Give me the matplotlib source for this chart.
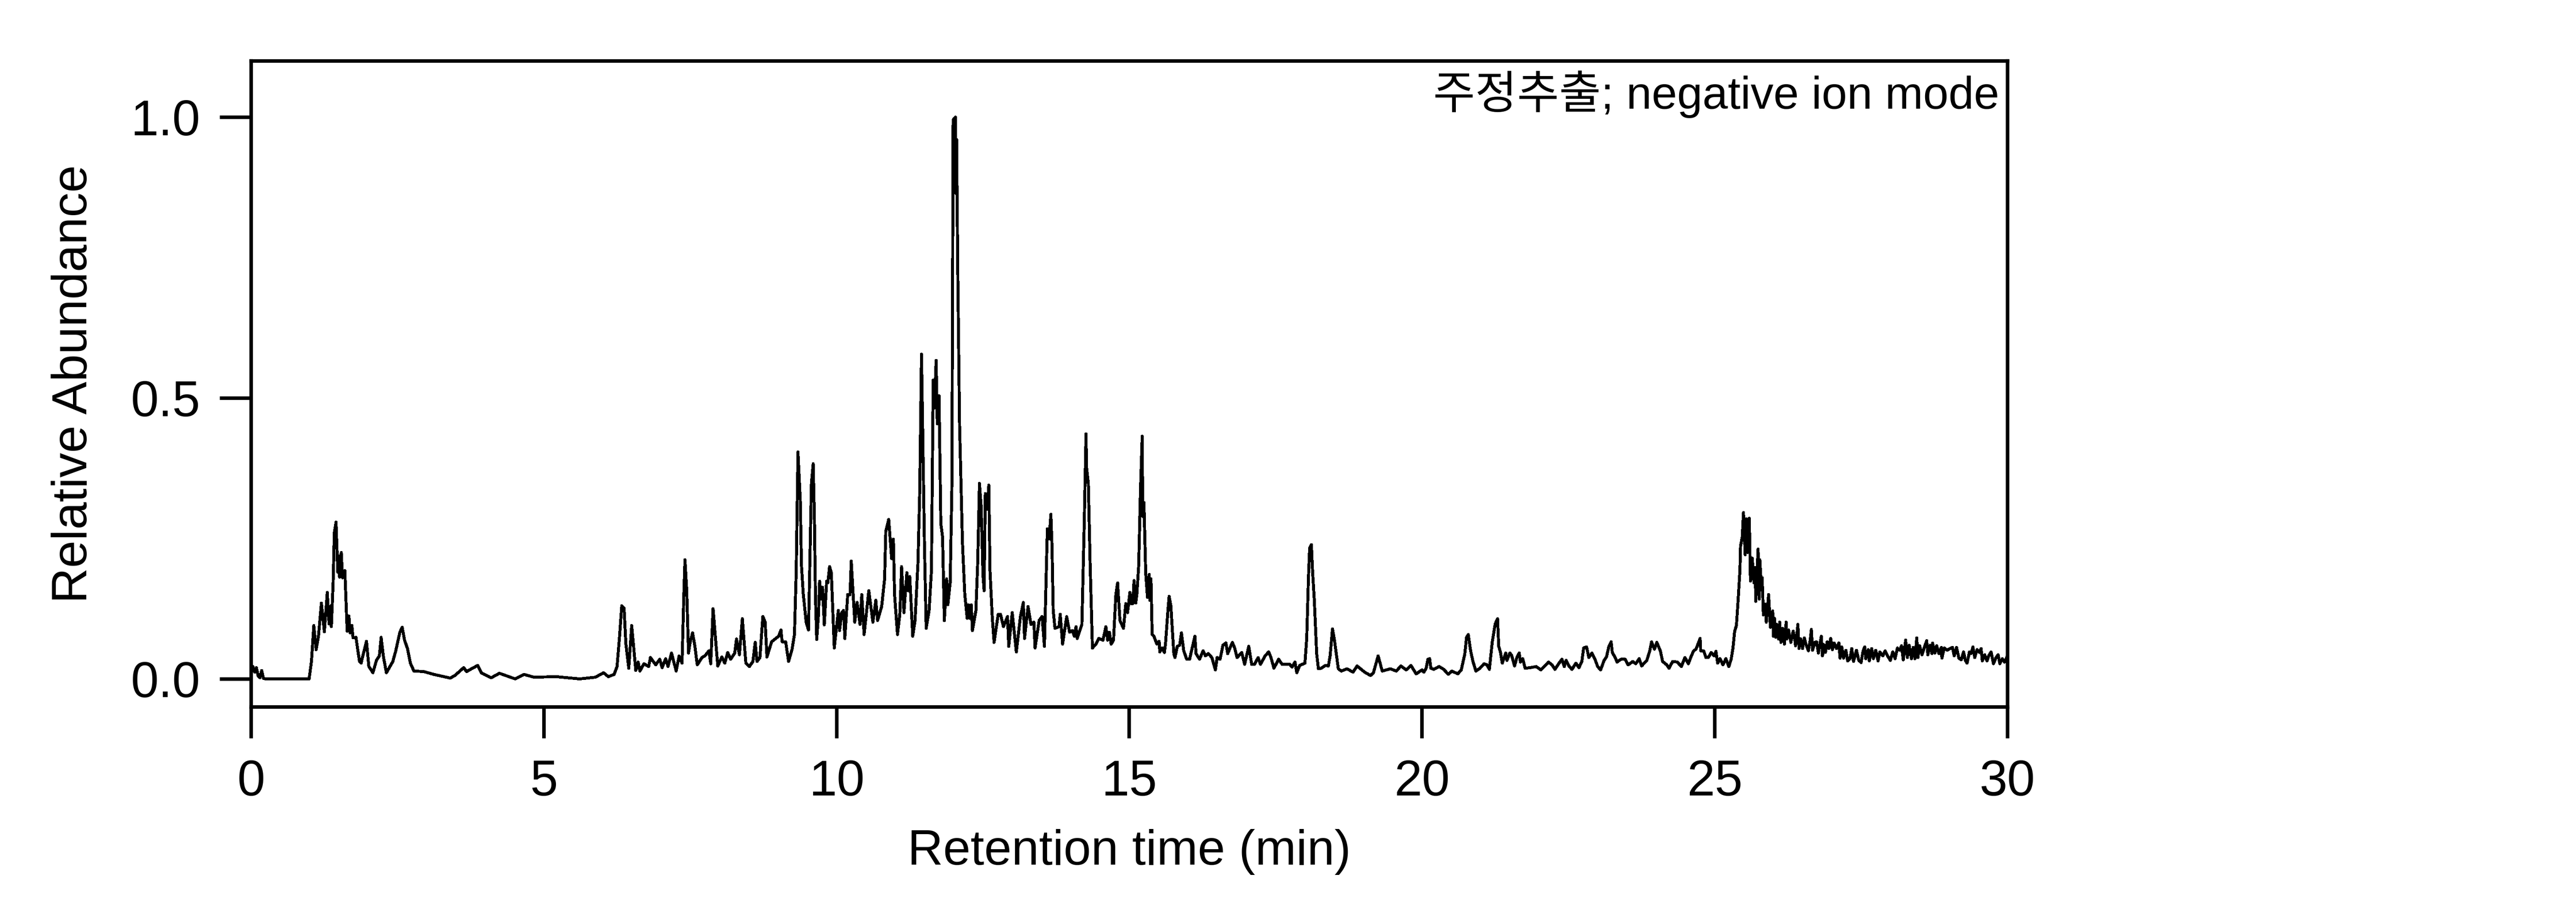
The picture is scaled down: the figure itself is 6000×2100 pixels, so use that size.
import numpy as np
import matplotlib.pyplot as plt

plt.rcParams['font.family'] = ['Liberation Sans', 'Noto Sans CJK KR']

# retention time (min) and relative abundance
rt_a = [0.00, 0.03, 0.06, 0.09, 0.12, 0.15, 0.18, 0.21, 0.25, 0.99,
        1.03, 1.07, 1.11, 1.15, 1.20, 1.25, 1.30, 1.33, 1.36, 1.37,
        1.40, 1.42, 1.45, 1.48, 1.50, 1.51, 1.54, 1.56, 1.60, 1.64,
        1.67, 1.69, 1.72, 1.74, 1.79, 1.85, 1.88, 1.90, 1.97, 2.01,
        2.08, 2.14, 2.19, 2.22, 2.26, 2.31, 2.42, 2.47, 2.54, 2.58,
        2.62, 2.67, 2.72, 2.78, 2.95, 3.12, 3.40, 3.48, 3.63, 3.68,
        3.78, 3.87, 3.93, 4.10, 4.24, 4.51, 4.66, 4.83]
ab_a = [0.018, 0.022, 0.012, 0.020, 0.005, 0.002, 0.015, 0.001, 0.0, 0.0,
        0.031, 0.095, 0.052, 0.076, 0.135, 0.084, 0.154, 0.098, 0.130, 0.093,
        0.171, 0.260, 0.279, 0.190, 0.219, 0.181, 0.225, 0.180, 0.193, 0.085,
        0.112, 0.082, 0.095, 0.073, 0.074, 0.031, 0.028, 0.038, 0.067, 0.022,
        0.011, 0.033, 0.041, 0.074, 0.039, 0.011, 0.031, 0.050, 0.083, 0.092,
        0.069, 0.054, 0.028, 0.014, 0.013, 0.008, 0.0015, 0.006, 0.020, 0.013,
        0.019, 0.024, 0.011, 0.002, 0.010, 0.0, 0.008, 0.003]

rt_b = [5.21, 5.61, 5.88, 6.02, 6.10, 6.20, 6.25, 6.29, 6.33, 6.37,
        6.40, 6.45, 6.50, 6.57, 6.61, 6.64, 6.71, 6.79, 6.82, 6.91,
        6.98, 7.02, 7.08, 7.12, 7.18, 7.26, 7.31, 7.36, 7.39, 7.41,
        7.44, 7.47, 7.50, 7.54, 7.58, 7.62, 7.70, 7.75, 7.82, 7.85,
        7.89, 7.97, 8.04, 8.09, 8.14, 8.19, 8.26, 8.29, 8.34, 8.39,
        8.45, 8.51, 8.57, 8.61, 8.64, 8.69, 8.74, 8.78, 8.81, 8.89,
        9.01, 9.05, 9.07, 9.13, 9.18, 9.24, 9.28, 9.31, 9.34, 9.38,
        9.40, 9.43, 9.48, 9.52, 9.54, 9.57, 9.60, 9.62, 9.64, 9.66,
        9.69, 9.71, 9.74, 9.76, 9.79, 9.83, 9.85]
ab_b = [0.004, 0.0, 0.003, 0.011, 0.004, 0.008, 0.022, 0.072, 0.130, 0.126,
        0.063, 0.019, 0.095, 0.015, 0.030, 0.014, 0.027, 0.022, 0.038, 0.025,
        0.035, 0.020, 0.036, 0.022, 0.046, 0.014, 0.041, 0.028, 0.149, 0.212,
        0.158, 0.046, 0.066, 0.082, 0.058, 0.025, 0.038, 0.041, 0.050, 0.027,
        0.125, 0.023, 0.039, 0.028, 0.047, 0.035, 0.046, 0.071, 0.043, 0.107,
        0.028, 0.022, 0.031, 0.065, 0.031, 0.038, 0.111, 0.101, 0.039, 0.066,
        0.076, 0.087, 0.066, 0.066, 0.031, 0.053, 0.079, 0.190, 0.404, 0.317,
        0.202, 0.152, 0.101, 0.087, 0.190, 0.348, 0.383, 0.291, 0.142, 0.070,
        0.114, 0.174, 0.142, 0.163, 0.096, 0.174, 0.171]

rt_c = [9.88, 9.91, 9.96, 10.03, 10.05, 10.09, 10.12, 10.14, 10.19, 10.23,
        10.25, 10.31, 10.35, 10.40, 10.43, 10.47, 10.55, 10.62, 10.67, 10.70,
        10.77, 10.82, 10.84, 10.89, 10.92, 10.94, 10.97, 10.99, 11.04, 11.08,
        11.11, 11.15, 11.20, 11.22, 11.25, 11.30, 11.34, 11.39, 11.42, 11.45,
        11.47, 11.50, 11.53, 11.58, 11.62, 11.65, 11.67, 11.70, 11.72, 11.75,
        11.78, 11.81, 11.84, 11.88, 11.90, 11.94, 11.97, 11.99, 12.03, 12.04,
        12.05, 12.07, 12.10, 12.15, 12.19, 12.23, 12.25, 12.27, 12.30, 12.32,
        12.38, 12.41, 12.44, 12.47, 12.50, 12.52, 12.54, 12.57, 12.60, 12.62,
        12.66, 12.69, 12.76, 12.80, 12.85, 12.92, 12.94, 13.00, 13.07, 13.14,
        13.19, 13.21, 13.27, 13.32, 13.37, 13.39, 13.46, 13.51, 13.55, 13.60,
        13.63, 13.66, 13.68, 13.70, 13.73, 13.80, 13.82, 13.86, 13.93, 13.98,
        14.03, 14.06, 14.09, 14.11, 14.19, 14.23, 14.26, 14.27, 14.30, 14.33,
        14.37, 14.43, 14.48, 14.55, 14.60, 14.63, 14.66, 14.69, 14.73, 14.77,
        14.80, 14.84, 14.90]
ab_c = [0.200, 0.189, 0.055, 0.122, 0.086, 0.118, 0.122, 0.072, 0.150, 0.150,
        0.210, 0.101, 0.136, 0.097, 0.150, 0.079, 0.157, 0.101, 0.140, 0.104,
        0.129, 0.178, 0.263, 0.284, 0.242, 0.214, 0.249, 0.150, 0.079, 0.115,
        0.200, 0.118, 0.189, 0.157, 0.182, 0.076, 0.104, 0.207, 0.334, 0.578,
        0.447, 0.242, 0.090, 0.122, 0.193, 0.532, 0.482, 0.567, 0.454, 0.504,
        0.277, 0.253, 0.104, 0.178, 0.132, 0.171, 0.348, 0.995, 1.000, 0.864,
        0.960, 0.723, 0.454, 0.242, 0.150, 0.108, 0.132, 0.108, 0.132, 0.086,
        0.122, 0.207, 0.348, 0.306, 0.185, 0.157, 0.330, 0.302, 0.345, 0.193,
        0.108, 0.065, 0.115, 0.115, 0.093, 0.111, 0.058, 0.118, 0.048, 0.111,
        0.136, 0.072, 0.129, 0.097, 0.101, 0.055, 0.104, 0.111, 0.058, 0.267,
        0.249, 0.293, 0.235, 0.122, 0.090, 0.093, 0.115, 0.062, 0.111, 0.083,
        0.086, 0.076, 0.093, 0.072, 0.097, 0.277, 0.436, 0.376, 0.348, 0.207,
        0.055, 0.062, 0.072, 0.069, 0.093, 0.069, 0.083, 0.062, 0.069, 0.150,
        0.171, 0.104, 0.090]

rt_d = [14.94, 14.97, 15.01, 15.03, 15.06, 15.08, 15.11, 15.13, 15.16, 15.19,
        15.22, 15.23, 15.25, 15.28, 15.31, 15.34, 15.35, 15.37, 15.39, 15.42,
        15.47, 15.51, 15.52, 15.56, 15.60, 15.62, 15.66, 15.68, 15.71, 15.76,
        15.78, 15.82, 15.86, 15.89, 15.93, 15.98, 16.03, 16.08, 16.12, 16.14,
        16.20, 16.26, 16.30, 16.35, 16.41, 16.47, 16.50, 16.55, 16.60, 16.65,
        16.68, 16.76, 16.80, 16.84, 16.92, 16.97, 17.04, 17.09, 17.14, 17.20,
        17.24, 17.32, 17.38, 17.42, 17.47, 17.55, 17.61, 17.74, 17.78, 17.83,
        17.86, 17.91, 18.00, 18.03, 18.06, 18.08, 18.11, 18.13, 18.16, 18.20,
        18.23, 18.28, 18.35, 18.40, 18.43, 18.47, 18.50, 18.57, 18.62, 18.72,
        18.82, 18.89, 19.02, 19.12, 19.17, 19.25, 19.32, 19.46, 19.56, 19.64,
        19.73, 19.81, 19.90]
ab_d = [0.134, 0.118, 0.154, 0.134, 0.134, 0.175, 0.135, 0.152, 0.202, 0.335,
        0.432, 0.289, 0.314, 0.188, 0.145, 0.186, 0.140, 0.178, 0.079, 0.076,
        0.062, 0.067, 0.048, 0.055, 0.047, 0.065, 0.123, 0.147, 0.130, 0.045,
        0.038, 0.058, 0.060, 0.082, 0.050, 0.035, 0.035, 0.058, 0.076, 0.045,
        0.035, 0.050, 0.041, 0.045, 0.038, 0.016, 0.038, 0.035, 0.060, 0.064,
        0.045, 0.065, 0.055, 0.038, 0.047, 0.026, 0.058, 0.026, 0.026, 0.038,
        0.026, 0.041, 0.048, 0.038, 0.019, 0.035, 0.026, 0.026, 0.021, 0.030,
        0.011, 0.024, 0.028, 0.072, 0.181, 0.233, 0.239, 0.192, 0.140, 0.045,
        0.018, 0.019, 0.024, 0.023, 0.041, 0.089, 0.072, 0.018, 0.014, 0.018,
        0.012, 0.023, 0.012, 0.006, 0.011, 0.041, 0.014, 0.018, 0.014, 0.023,
        0.016, 0.024, 0.009]

rt_e = [20.00, 20.03, 20.07, 20.10, 20.13, 20.15, 20.20, 20.29, 20.37, 20.45,
        20.51, 20.61, 20.67, 20.73, 20.76, 20.79, 20.83, 20.87, 20.92, 20.99,
        21.06, 21.11, 21.15, 21.20, 21.25, 21.29, 21.31, 21.34, 21.37, 21.43,
        21.45, 21.50, 21.53, 21.58, 21.62, 21.66, 21.68, 21.72, 21.76, 21.85,
        21.95, 22.03, 22.16, 22.22, 22.27, 22.32, 22.39, 22.43, 22.46, 22.51,
        22.56, 22.63, 22.68, 22.73, 22.76, 22.81, 22.85, 22.90, 22.95, 23.00,
        23.05, 23.11, 23.15, 23.19, 23.23, 23.25, 23.30, 23.33, 23.40, 23.47,
        23.52, 23.60, 23.65, 23.71, 23.75, 23.84, 23.89, 23.92, 23.97, 24.01,
        24.07, 24.11, 24.18, 24.22, 24.28, 24.36, 24.43, 24.49, 24.55, 24.60,
        24.64, 24.68, 24.75, 24.76, 24.81, 24.85]
ab_e = [0.016, 0.012, 0.019, 0.035, 0.036, 0.019, 0.017, 0.022, 0.017, 0.008,
        0.014, 0.009, 0.016, 0.044, 0.074, 0.079, 0.050, 0.031, 0.014, 0.019,
        0.027, 0.025, 0.017, 0.066, 0.098, 0.107, 0.058, 0.047, 0.028, 0.046,
        0.033, 0.046, 0.042, 0.023, 0.038, 0.046, 0.030, 0.036, 0.019, 0.020,
        0.022, 0.016, 0.030, 0.025, 0.017, 0.025, 0.035, 0.022, 0.033, 0.023,
        0.017, 0.028, 0.020, 0.031, 0.055, 0.057, 0.038, 0.046, 0.036, 0.022,
        0.016, 0.033, 0.039, 0.057, 0.066, 0.047, 0.038, 0.030, 0.035, 0.035,
        0.025, 0.031, 0.027, 0.036, 0.023, 0.033, 0.050, 0.066, 0.053, 0.065,
        0.050, 0.031, 0.025, 0.019, 0.031, 0.030, 0.022, 0.038, 0.027, 0.041,
        0.050, 0.053, 0.072, 0.050, 0.050, 0.038]

rt_f = [24.89, 24.94, 24.99, 25.02, 25.05, 25.09, 25.14, 25.19, 25.24, 25.28,
        25.31, 25.34, 25.37, 25.40, 25.43, 25.44, 25.47, 25.49, 25.52, 25.54,
        25.56, 25.59, 25.61, 25.64, 25.67, 25.69, 25.70, 25.74, 25.76, 25.77,
        25.80, 25.81, 25.83, 25.86, 25.88, 25.92, 25.95]
ab_f = [0.038, 0.047, 0.041, 0.049, 0.028, 0.036, 0.025, 0.036, 0.022, 0.035,
        0.054, 0.085, 0.095, 0.142, 0.193, 0.236, 0.253, 0.296, 0.221, 0.285,
        0.225, 0.286, 0.174, 0.215, 0.171, 0.198, 0.138, 0.231, 0.142, 0.212,
        0.158, 0.180, 0.114, 0.133, 0.101, 0.150, 0.092]

# noisy tail after the last peak
rt_g = [25.99, 26.00, 26.02, 26.04, 26.06, 26.09, 26.11, 26.13, 26.16, 26.19,
        26.22, 26.23, 26.26, 26.30, 26.34, 26.37, 26.38, 26.40, 26.42, 26.44,
        26.47, 26.50, 26.53, 26.56, 26.60, 26.63, 26.65, 26.67, 26.71, 26.74,
        26.77, 26.80, 26.82, 26.84, 26.86, 26.89, 26.92, 26.95, 26.98, 27.01,
        27.04, 27.08, 27.12, 27.14, 27.17, 27.20, 27.24, 27.27, 27.31, 27.34,
        27.37, 27.42, 27.46, 27.50, 27.53, 27.56, 27.58, 27.62, 27.64, 27.68,
        27.71, 27.75, 27.79, 27.82, 27.87, 27.91, 27.95, 28.00, 28.04, 28.08,
        28.12, 28.16, 28.19, 28.22, 28.26, 28.29, 28.32, 28.36, 28.39, 28.42,
        28.45, 28.47, 28.50, 28.54, 28.58, 28.62, 28.64, 28.68, 28.71, 28.72,
        28.76, 28.79, 28.83, 28.87, 28.88, 28.92, 28.97, 29.02, 29.06, 29.09,
        29.13, 29.17, 29.21, 29.25, 29.28, 29.31, 29.35, 29.38, 29.41, 29.44,
        29.48, 29.52, 29.55, 29.57, 29.61, 29.65, 29.68, 29.72, 29.76, 29.80,
        29.84, 29.87, 29.91, 29.95, 29.99]
ab_g = [0.121, 0.076, 0.108, 0.074, 0.097, 0.071, 0.101, 0.065, 0.090, 0.062,
        0.101, 0.071, 0.087, 0.065, 0.085, 0.068, 0.059, 0.076, 0.097, 0.054,
        0.071, 0.054, 0.073, 0.061, 0.050, 0.069, 0.088, 0.051, 0.065, 0.066,
        0.046, 0.064, 0.076, 0.041, 0.061, 0.047, 0.066, 0.054, 0.072, 0.052,
        0.064, 0.054, 0.064, 0.037, 0.057, 0.037, 0.051, 0.032, 0.036, 0.054,
        0.031, 0.051, 0.033, 0.029, 0.048, 0.057, 0.036, 0.052, 0.032, 0.054,
        0.036, 0.051, 0.032, 0.048, 0.041, 0.050, 0.041, 0.033, 0.048, 0.036,
        0.055, 0.051, 0.059, 0.034, 0.069, 0.038, 0.060, 0.036, 0.056, 0.036,
        0.073, 0.038, 0.059, 0.043, 0.056, 0.068, 0.043, 0.060, 0.045, 0.064,
        0.046, 0.059, 0.045, 0.056, 0.037, 0.055, 0.051, 0.054, 0.056, 0.041,
        0.056, 0.037, 0.034, 0.048, 0.033, 0.028, 0.048, 0.045, 0.057, 0.038,
        0.052, 0.047, 0.054, 0.032, 0.043, 0.032, 0.041, 0.048, 0.027, 0.037,
        0.043, 0.027, 0.036, 0.030, 0.039]

x_ticks = [0, 5, 10, 15, 20, 25, 30]
y_ticks = [0.0, 0.5, 1.0]
y_tick_labels = ['0.0', '0.5', '1.0']
note = '주정추출; negative ion mode'

rt = np.concatenate([rt_a, rt_b, rt_c, rt_d, rt_e, rt_f, rt_g])
ab = np.concatenate([ab_a, ab_b, ab_c, ab_d, ab_e, ab_f, ab_g])

fig = plt.figure(figsize=(20, 7), dpi=300)
ax = fig.add_axes([0.0975, 0.2162, 0.6818, 0.7162])
ax.plot(rt, ab, c='k', lw=1.4, antialiased=False)
ax.set_xlim(0, 30)
ax.set_ylim(-0.05, 1.1)
ax.set_xticks(x_ticks)
ax.set_yticks(y_ticks)
ax.set_yticklabels(y_tick_labels)
for s in ax.spines.values():
    s.set_linewidth(2)
ax.tick_params(direction='out', length=17.5, width=2, labelsize=28)
ax.tick_params(axis='x', pad=11.5)
ax.tick_params(axis='y', pad=11)
ax.set_xlabel('Retention time (min)', fontsize=27.5, labelpad=13)
ax.set_ylabel('Relative Abundance', fontsize=27.5, labelpad=19)
ax.text(0.9954, 0.926, note, transform=ax.transAxes, ha='right', va='baseline', fontsize=25.5)
fig.savefig('out.png', dpi=300)
